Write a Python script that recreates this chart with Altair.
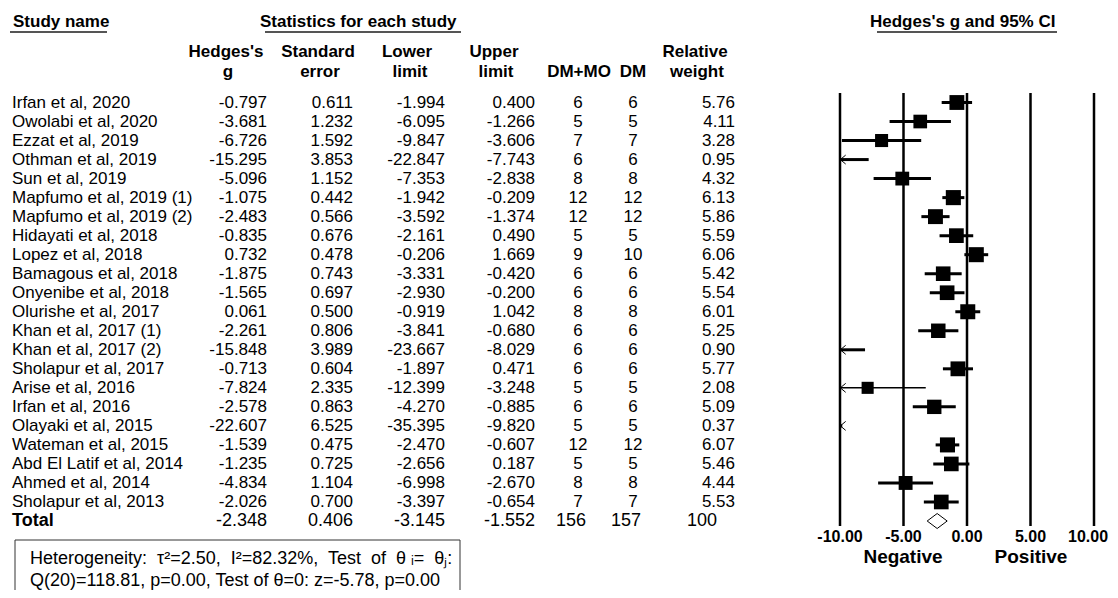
import altair as alt
import pandas as pd

# ---------------- data ----------------
studies = ["Irfan et al, 2020", "Owolabi et al, 2020", "Ezzat et al, 2019", "Othman et al, 2019",
           "Sun et al, 2019", "Mapfumo et al, 2019 (1)", "Mapfumo et al, 2019 (2)", "Hidayati et al, 2018",
           "Lopez et al, 2018", "Bamagous et al, 2018", "Onyenibe et al, 2018", "Olurishe et al, 2017",
           "Khan et al, 2017 (1)", "Khan et al, 2017 (2)", "Sholapur et al, 2017", "Arise et al, 2016",
           "Irfan et al, 2016", "Olayaki et al, 2015", "Wateman et al, 2015", "Abd El Latif et al, 2014",
           "Ahmed et al, 2014", "Sholapur et al, 2013"]
hedges_g = [-0.797, -3.681, -6.726, -15.295, -5.096, -1.075, -2.483, -0.835, 0.732, -1.875, -1.565,
            0.061, -2.261, -15.848, -0.713, -7.824, -2.578, -22.607, -1.539, -1.235, -4.834, -2.026]
std_err = [0.611, 1.232, 1.592, 3.853, 1.152, 0.442, 0.566, 0.676, 0.478, 0.743, 0.697,
           0.500, 0.806, 3.989, 0.604, 2.335, 0.863, 6.525, 0.475, 0.725, 1.104, 0.700]
lower_lim = [-1.994, -6.095, -9.847, -22.847, -7.353, -1.942, -3.592, -2.161, -0.206, -3.331, -2.930,
             -0.919, -3.841, -23.667, -1.897, -12.399, -4.270, -35.395, -2.470, -2.656, -6.998, -3.397]
upper_lim = [0.400, -1.266, -3.606, -7.743, -2.838, -0.209, -1.374, 0.490, 1.669, -0.420, -0.200,
             1.042, -0.680, -8.029, 0.471, -3.248, -0.885, -9.820, -0.607, 0.187, -2.670, -0.654]
n_dmmo = [6, 5, 7, 6, 8, 12, 12, 5, 9, 6, 6, 8, 6, 6, 6, 5, 6, 5, 12, 5, 8, 7]
n_dm = [6, 5, 7, 6, 8, 12, 12, 5, 10, 6, 6, 8, 6, 6, 6, 5, 6, 5, 12, 5, 8, 7]
rel_weight = [5.76, 4.11, 3.28, 0.95, 4.32, 6.13, 5.86, 5.59, 6.06, 5.42, 5.54, 6.01, 5.25, 0.90,
              5.77, 2.08, 5.09, 0.37, 6.07, 5.46, 4.44, 5.53]

total_label = "Total"
total_g, total_se, total_lo, total_hi = -2.348, 0.406, -3.145, -1.552
total_dmmo, total_dm, total_weight = 156, 157, 100

axis_ticks = [-10, -5, 0, 5, 10]
axis_tick_labels = ["-10.00", "-5.00", "0.00", "5.00", "10.00"]

section_titles = ["Study name", "Statistics for each study", "Hedges's g and 95% CI"]
col_head1 = ["Hedges's", "Standard", "Lower", "Upper", "Relative"]
col_head2 = ["g", "error", "limit", "limit", "DM+MO", "DM", "weight"]
side_labels = ["Negative", "Positive"]
het_lines = ["Heterogeneity:\u00a0 \u03c4\u00b2=2.50,\u00a0 I\u00b2=82.32%,\u00a0 Test\u00a0 of\u00a0 \u03b8 \u1d62=\u00a0 \u03b8\u2c7c:",
             "Q(20)=118.81, p=0.00, Test of \u03b8=0: z=-5.78, p=0.00"]

# ---------------- frames ----------------
XMIN, XMAX = -10, 10
df = pd.DataFrame({
    "row": list(range(len(studies))),
    "study": studies,
    "est": hedges_g,
    "lo": lower_lim,
    "hi": upper_lim,
    "weight": rel_weight,
})
df["g_s"] = [f"{v:.3f}" for v in hedges_g]
df["se_s"] = [f"{v:.3f}" for v in std_err]
df["lo_s"] = [f"{v:.3f}" for v in lower_lim]
df["hi_s"] = [f"{v:.3f}" for v in upper_lim]
df["dmmo_s"] = [str(v) for v in n_dmmo]
df["dm_s"] = [str(v) for v in n_dm]
df["w_s"] = [f"{v:.2f}" for v in rel_weight]
df["lo_c"] = df["lo"].clip(lower=XMIN)
df["hi_c"] = df["hi"].clip(upper=XMAX)

tot_row = len(studies)
tdf = pd.DataFrame({
    "row": [tot_row], "study": [total_label], "est": [total_g], "lo": [total_lo], "hi": [total_hi],
    "g_s": [f"{total_g:.3f}"], "se_s": [f"{total_se:.3f}"], "lo_s": [f"{total_lo:.3f}"],
    "hi_s": [f"{total_hi:.3f}"], "dmmo_s": [str(total_dmmo)], "dm_s": [str(total_dm)],
    "w_s": [str(total_weight)],
})

FONT = "Liberation Sans, Arial, sans-serif"
xs = alt.Scale(domain=[XMIN, XMAX], range=[832, 1086])
ys = alt.Scale(domain=[0, tot_row], range=[94.5, 513])
Y = alt.Y("row:Q", scale=ys, axis=None)

layers = []

# vertical reference lines
tick_df = pd.DataFrame({"v": axis_ticks, "lab": axis_tick_labels})
layers.append(alt.Chart(tick_df).mark_rule(color="black", strokeWidth=2.5).encode(
    x=alt.X("v:Q", scale=xs, axis=None), y=alt.value(85), y2=alt.value(518)))
layers.append(alt.Chart(tick_df).transform_filter(alt.datum.v < XMAX).mark_text(
    font=FONT, fontSize=16, fontWeight="bold", align="center", baseline="middle", color="black").encode(
    x=alt.X("v:Q", scale=xs, axis=None), y=alt.value(529), text="lab:N"))
layers.append(alt.Chart(tick_df).transform_filter(alt.datum.v >= XMAX).mark_text(
    font=FONT, fontSize=16, fontWeight="bold", align="center", baseline="middle", color="black",
    dx=-6).encode(
    x=alt.X("v:Q", scale=xs, axis=None), y=alt.value(529), text="lab:N"))

# confidence intervals
layers.append(alt.Chart(df).mark_rule(color="black").encode(
    x=alt.X("lo_c:Q", scale=xs, axis=None), x2="hi_c:Q", y=Y,
    strokeWidth=alt.condition(alt.datum.study == "Arise et al, 2016", alt.value(1.5), alt.value(3))))

# squares
layers.append(alt.Chart(df).transform_filter(alt.datum.est >= XMIN).mark_point(
    shape="square", filled=True, color="black", opacity=1).encode(
    x=alt.X("est:Q", scale=xs, axis=None), y=Y,
    size=alt.Size("weight:Q", scale=alt.Scale(domain=[0, 7], range=[104, 245]), legend=None)))

# arrows for clipped intervals
layers.append(alt.Chart(df).transform_filter(alt.datum.lo < XMIN).mark_point(
    shape="M0.6,-1L-0.6,0L0.6,1", filled=False, color="black", strokeWidth=1, size=80, xOffset=3,
    opacity=1).encode(x=alt.X("lo_c:Q", scale=xs, axis=None), y=Y))

# summary diamond
layers.append(alt.Chart(tdf).mark_point(
    shape="M-1,0L0,-0.75L1,0L0,0.75Z", filled=False, color="black", strokeWidth=1, size=400,
    opacity=1).encode(x=alt.X("est:Q", scale=xs, axis=None), y=Y))

# table columns
def col(data, field, xpos, align, size=17, weight="normal"):
    return alt.Chart(data).mark_text(font=FONT, fontSize=size, fontWeight=weight, align=align,
                                     baseline="middle", color="black").encode(
        x=alt.value(xpos), y=Y, text=f"{field}:N")

for field, xpos, align in [("study", 4, "left"), ("g_s", 259, "right"), ("se_s", 345, "right"),
                           ("lo_s", 437, "right"), ("hi_s", 527, "right"), ("dmmo_s", 570, "center"),
                           ("dm_s", 625, "center"), ("w_s", 727, "right")]:
    layers.append(col(df, field, xpos, align))

layers.append(col(tdf, "study", 4, "left", 18, "bold"))
for field, xpos, align in [("g_s", 259, "right"), ("se_s", 345, "right"), ("lo_s", 437, "right"),
                           ("hi_s", 527, "right"), ("dmmo_s", 563, "center"), ("dm_s", 618, "center"),
                           ("w_s", 709, "right")]:
    layers.append(col(tdf, field, xpos, align, 18))

# free labels
def label(text, xpos, ypos, size=17, weight="bold", align="center"):
    return alt.Chart(pd.DataFrame({"t": [text]})).mark_text(
        font=FONT, fontSize=size, fontWeight=weight, align=align, baseline="middle", color="black").encode(
        x=alt.value(xpos), y=alt.value(ypos), text="t:N")

def hline(x1, x2, ypos, color="#555555", width=2):
    return alt.Chart(pd.DataFrame({"a": [0]})).mark_rule(color=color, strokeWidth=width).encode(
        x=alt.value(x1), x2=alt.value(x2), y=alt.value(ypos))

layers.append(label(section_titles[0], 5, 14, align="left"))
layers.append(label(section_titles[1], 252, 14, align="left"))
layers.append(label(section_titles[2], 862, 14, align="left"))
layers.append(hline(2, 99, 24))
layers.append(hline(257, 453, 24))
layers.append(hline(869, 1049, 24))

for text, xpos in zip(col_head1, [218, 310, 399, 486, 687]):
    layers.append(label(text, xpos, 44))
for text, xpos in zip(col_head2, [220, 312, 402, 488, 571, 625, 689]):
    layers.append(label(text, xpos, 64))

layers.append(label(side_labels[0], 895, 549, size=19))
layers.append(label(side_labels[1], 1023, 549, size=19))

# heterogeneity box
layers.append(alt.Chart(pd.DataFrame({"a": [0]})).mark_rect(
    fillOpacity=0, stroke="#333333", strokeWidth=1).encode(
    x=alt.value(7), x2=alt.value(452), y=alt.value(532), y2=alt.value(588)))
layers.append(label(het_lines[0], 22, 551, size=18, weight="normal", align="left"))
layers.append(label(het_lines[1], 22, 573, size=18, weight="normal", align="left"))

chart = alt.layer(*layers).properties(
    width=1102, height=582, padding=0, autosize=alt.AutoSizeParams(type="none"),
    background="white").configure_view(stroke=None)

chart.save("out.html", embed_options={"renderer": "svg", "actions": False})
